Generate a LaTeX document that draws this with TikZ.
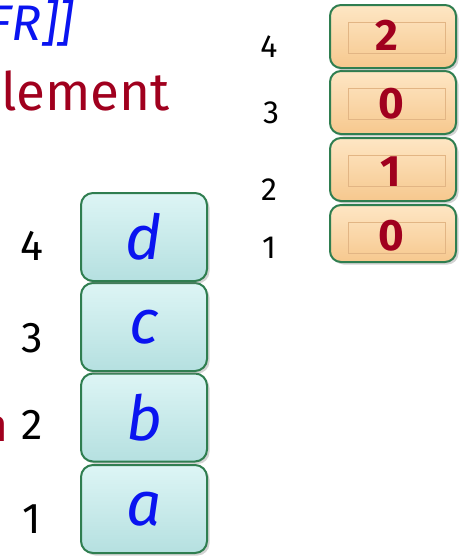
\documentclass[tikz,border=0pt]{standalone}
\usepackage{fontspec}
\setmainfont{Fira Sans}
\usetikzlibrary{shadows}
\definecolor{bordergreen}{HTML}{2F7E50}
\definecolor{cyantop}{HTML}{DDF5F5}
\definecolor{cyanbot}{HTML}{B5E0E0}
\definecolor{tantop}{HTML}{FEE6C4}
\definecolor{tanbot}{HTML}{F6C88E}
\definecolor{tanline}{HTML}{E2B584}
\definecolor{txtblue}{HTML}{0A14F0}
\definecolor{txtred}{HTML}{A0001E}
\tikzset{
  x=1pt, y=-1pt,
  lbox/.style={draw=bordergreen, line width=2pt, rounded corners=12pt,
    top color=cyantop, bottom color=cyanbot, minimum width=126pt,
    drop shadow={shadow xshift=2.5pt, shadow yshift=-2.5pt, opacity=0.35},
    inner sep=0pt, text=txtblue, font=\itshape\fontsize{62}{62}\selectfont},
  rbox/.style={draw=bordergreen, line width=2pt, rounded corners=11pt,
    top color=tantop, bottom color=tanbot, minimum width=126pt,
    drop shadow={shadow xshift=2.5pt, shadow yshift=-2.5pt, opacity=0.35},
    inner sep=0pt},
  inrect/.style={draw=tanline, line width=0.6pt, minimum width=97pt, minimum height=31pt, inner sep=0pt},
  digit/.style={text=txtred, font=\bfseries\fontsize{44}{44}\selectfont, inner sep=0pt},
  lidx/.style={font=\fontsize{43}{43}\selectfont, inner sep=0pt},
  ridx/.style={font=\fontsize{32}{32}\selectfont, inner sep=0pt},
  title/.style={inner sep=0pt}
}
\begin{document}
\begin{tikzpicture}
\useasboundingbox (0,0) rectangle (459,557);
\clip (0,0) rectangle (459,557);
% top-left text
\node[title, anchor=base east, text=txtblue, font=\itshape\fontsize{50}{50}\selectfont] (t1) at (74,40) {FR]]};
\node[title, anchor=base west, text=txtred, font=\fontsize{53}{53}\selectfont] (t2) at (1,110) {lement};
\node[title, anchor=base east, text=txtred, font=\fontsize{46}{46}\selectfont] (t3) at (9,441) {n};
% left stack
\node[lbox, minimum height=88pt] (la) at (144,509) {a};
\node[lbox, minimum height=88pt] (lb) at (144,417.5) {b};
\node[lbox, minimum height=88pt] (lc) at (144,327) {c};
\node[lbox, minimum height=88pt] (ld) at (144,237) {d};
\node[lidx] (li1) at (32,519) {1};
\node[lidx] (li2) at (32,425) {2};
\node[lidx] (li3) at (32,338) {3};
\node[lidx] (li4) at (32,246) {4};
% right stack
\node[rbox, minimum height=57pt] (r1) at (393,233.5) {};
\node[rbox, minimum height=63pt] (r2) at (393,169.5) {};
\node[rbox, minimum height=63pt] (r3) at (393,102.5) {};
\node[rbox, minimum height=63pt] (r4) at (393,36.5) {};
\node[inrect] (q1) at (396.5,237.5) {};
\node[inrect] (q2) at (396.5,171) {};
\node[inrect] (q3) at (396.5,104) {};
\node[inrect] (q4) at (396.5,38) {};
\node[digit] (d1) at (391,236) {0};
\node[digit] (d2) at (391,171.5) {1};
\node[digit] (d3) at (391,104) {0};
\node[digit] (d4) at (387,35) {2};
\node[ridx] (ri1) at (269,248) {1};
\node[ridx] (ri2) at (269,190) {2};
\node[ridx] (ri3) at (271,113) {3};
\node[ridx] (ri4) at (269,47) {4};
\end{tikzpicture}
\end{document}
